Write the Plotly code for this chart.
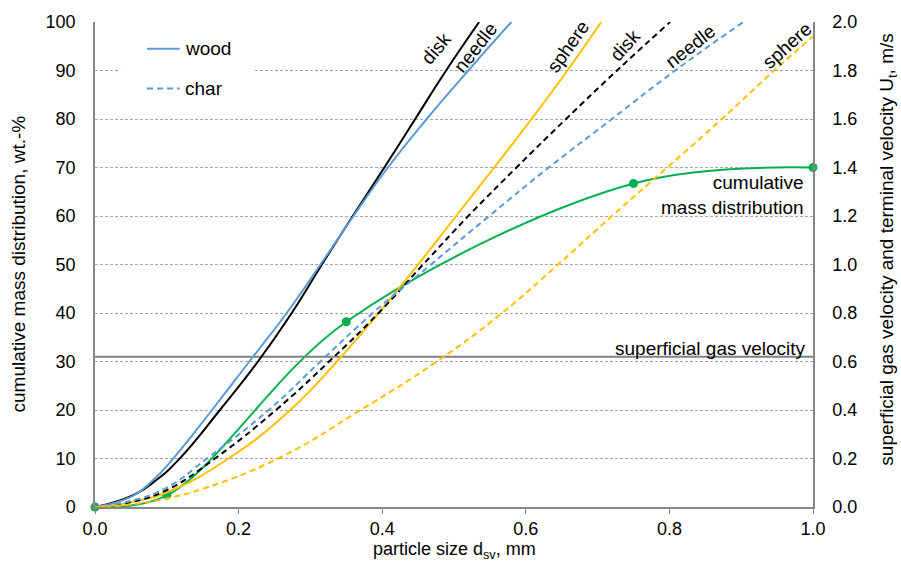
import plotly.graph_objects as go

# Cumulative mass distribution of the sample: particle size (mm) vs. wt.-%
psd_size = [0.0, 0.1, 0.35, 0.75, 1.0]
psd_cum = [0.0, 2.4, 38.2, 66.7, 70.0]

# Superficial gas velocity (m/s), drawn across the full size range
gas_size = [0.0, 1.0]
gas_u = [0.62, 0.62]

# Terminal velocities U_t (m/s) vs. particle size d_sv (mm)
wood_disk_d = [0.0, 0.05, 0.085, 0.118, 0.174, 0.227, 0.274, 0.316, 0.359, 0.403, 0.446, 0.489, 0.535]
wood_disk_u = [0.0, 0.045, 0.11, 0.2, 0.4, 0.6, 0.8, 1.0, 1.2, 1.4, 1.6, 1.8, 2.0]

wood_needle_d = [0.0, 0.05, 0.08, 0.109, 0.163, 0.215, 0.267, 0.314, 0.36, 0.408, 0.462, 0.52, 0.58]
wood_needle_u = [0.0, 0.042, 0.108, 0.2, 0.4, 0.6, 0.8, 1.0, 1.2, 1.4, 1.6, 1.8, 2.0]

wood_sphere_d = [0.0, 0.05, 0.1, 0.186, 0.272, 0.337, 0.395, 0.45, 0.503, 0.556, 0.608, 0.658, 0.705]
wood_sphere_u = [0.0, 0.02, 0.06, 0.2, 0.4, 0.6, 0.8, 1.0, 1.2, 1.4, 1.6, 1.8, 2.0]

char_disk_d = [0.0, 0.05, 0.1, 0.167, 0.252, 0.326, 0.395, 0.457, 0.52, 0.587, 0.656, 0.727, 0.801]
char_disk_u = [0.0, 0.02, 0.07, 0.2, 0.4, 0.6, 0.8, 1.0, 1.2, 1.4, 1.6, 1.8, 2.0]

char_needle_d = [0.0, 0.05, 0.1, 0.156, 0.242, 0.314, 0.387, 0.468, 0.549, 0.632, 0.72, 0.808, 0.903]
char_needle_u = [0.0, 0.025, 0.08, 0.2, 0.4, 0.6, 0.8, 1.0, 1.2, 1.4, 1.6, 1.8, 2.0]

char_sphere_d = [0.0, 0.05, 0.1, 0.15, 0.255, 0.37, 0.476, 0.567, 0.645, 0.72, 0.797, 0.873, 0.946, 1.0]
char_sphere_u = [0.0, 0.01, 0.035, 0.075, 0.2, 0.4, 0.6, 0.8, 1.0, 1.2, 1.4, 1.6, 1.8, 1.94]

x_ticks = [0.0, 0.2, 0.4, 0.6, 0.8, 1.0]
y_left_ticks = list(range(0, 101, 10))
y_right_ticks = [0.0, 0.2, 0.4, 0.6, 0.8, 1.0, 1.2, 1.4, 1.6, 1.8, 2.0]

BLUE = "#5B9BD5"
BLACK = "#000000"
YELLOW = "#FFC000"
GREEN = "#00B050"
GRAY = "#868686"
FONT = "Liberation Sans, Arial, sans-serif"
DASH = "6px,4px"

# Canvas and plot-area geometry (px)
W, H = 901, 569
L, R, T, B = 95, 88, 17, 62
pw, ph = W - L - R, H - T - B

fig = go.Figure()

velocity_curves = [
    (wood_disk_d, wood_disk_u, BLACK, "solid"),
    (wood_needle_d, wood_needle_u, BLUE, "solid"),
    (wood_sphere_d, wood_sphere_u, YELLOW, "solid"),
    (char_disk_d, char_disk_u, BLACK, DASH),
    (char_needle_d, char_needle_u, BLUE, DASH),
    (char_sphere_d, char_sphere_u, YELLOW, DASH),
]

fig.add_trace(go.Scatter(
    x=gas_size, y=gas_u, yaxis="y2", mode="lines",
    line=dict(color="#808080", width=2), showlegend=False, hoverinfo="skip",
))

for d, u, color, dash in velocity_curves:
    fig.add_trace(go.Scatter(
        x=d, y=u, yaxis="y2", mode="lines",
        line=dict(color=color, width=2, dash=dash, shape="spline", smoothing=1.3),
        showlegend=False,
    ))

fig.add_trace(go.Scatter(
    x=psd_size, y=psd_cum, mode="lines+markers",
    line=dict(color=GREEN, width=2, shape="spline", smoothing=1.0),
    marker=dict(color=GREEN, size=9),
    cliponaxis=False, showlegend=False,
))

text_font = dict(size=19, color="#000000", family=FONT)

# Shape labels along the terminal-velocity curves
curve_labels = [
    ("disk", 0.475, 1.891, -50),
    ("needle", 0.530, 1.895, -52),
    ("sphere", 0.659, 1.899, -55),
    ("disk", 0.738, 1.903, -48),
    ("needle", 0.829, 1.899, -38),
    ("sphere", 0.964, 1.903, -42),
]
annotations = []
for text, x, y, ang in curve_labels:
    annotations.append(dict(
        text=text, x=x, y=y, xref="x", yref="y2", textangle=ang,
        showarrow=False, xanchor="center", yanchor="middle", font=text_font,
    ))

annotations += [
    dict(text="cumulative<br>mass distribution", x=0.99, y=64.3, xref="x", yref="y",
         xanchor="right", yanchor="middle", align="right", showarrow=False, font=text_font),
    dict(text="superficial gas velocity", x=0.993, y=0.655, xref="x", yref="y2",
         xanchor="right", yanchor="middle", showarrow=False, font=text_font),
    dict(text="cumulative mass distribution, wt.-%", x=(18 - L) / pw, y=(H - B - 262) / ph,
         xref="paper", yref="paper", showarrow=False, textangle=-90,
         xanchor="center", yanchor="middle", font=text_font),
    dict(text="particle size d<sub>sv</sub>, mm", x=(454 - L) / pw, y=(H - B - 551) / ph,
         xref="paper", yref="paper", showarrow=False,
         xanchor="center", yanchor="middle", font=dict(size=18, color="#000000", family=FONT)),
    dict(text="superficial gas velocity and terminal velocity U<sub>t</sub>, m/s",
         x=(888 - L) / pw, y=(H - B - 247) / ph,
         xref="paper", yref="paper", showarrow=False, textangle=-90,
         xanchor="center", yanchor="middle", font=text_font),
    dict(text="wood", x=0.123, y=94.5, xref="x", yref="y", showarrow=False,
         xanchor="left", yanchor="middle", font=text_font),
    dict(text="char", x=0.123, y=86.3, xref="x", yref="y", showarrow=False,
         xanchor="left", yanchor="middle", font=text_font),
]

shapes = [
    dict(type="rect", xref="x", yref="y", x0=0.035, x1=0.22, y0=81.5, y1=98.5,
         fillcolor="white", line=dict(width=0), layer="between"),
    dict(type="line", xref="x", yref="y", x0=0.0725, x1=0.118, y0=94.5, y1=94.5,
         line=dict(color=BLUE, width=2)),
    dict(type="line", xref="x", yref="y", x0=0.0725, x1=0.118, y0=86.3, y1=86.3,
         line=dict(color=BLUE, width=2, dash=DASH)),
]

axis_font = dict(size=18, color="#000000", family=FONT)
fig.update_layout(
    width=W, height=H,
    margin=dict(l=L, r=R, t=T, b=B, pad=0),
    paper_bgcolor="white", plot_bgcolor="white",
    showlegend=False,
    xaxis=dict(range=[0, 1], tickvals=x_ticks, ticktext=[f"{v:.1f}" for v in x_ticks],
               showgrid=False, zeroline=False, showline=True, linecolor=GRAY, linewidth=1.5,
               ticks="outside", ticklen=5, tickcolor=GRAY, tickfont=axis_font),
    yaxis=dict(range=[0, 100], tickvals=y_left_ticks, showgrid=True, gridcolor="#A6A6A6",
               griddash="3px,2px", gridwidth=1, zeroline=False, showline=True,
               linecolor=GRAY, linewidth=1.5, ticks="", tickfont=axis_font, ticklabelstandoff=14),
    yaxis2=dict(range=[0, 2], overlaying="y", side="right", tickvals=y_right_ticks,
                ticktext=[f"{v:.1f}" for v in y_right_ticks], showgrid=False, zeroline=False,
                showline=True, linecolor=GRAY, linewidth=1.5, ticks="", tickfont=axis_font,
                ticklabelstandoff=14),
    annotations=annotations,
    shapes=shapes,
)

fig.write_html("out.html")
